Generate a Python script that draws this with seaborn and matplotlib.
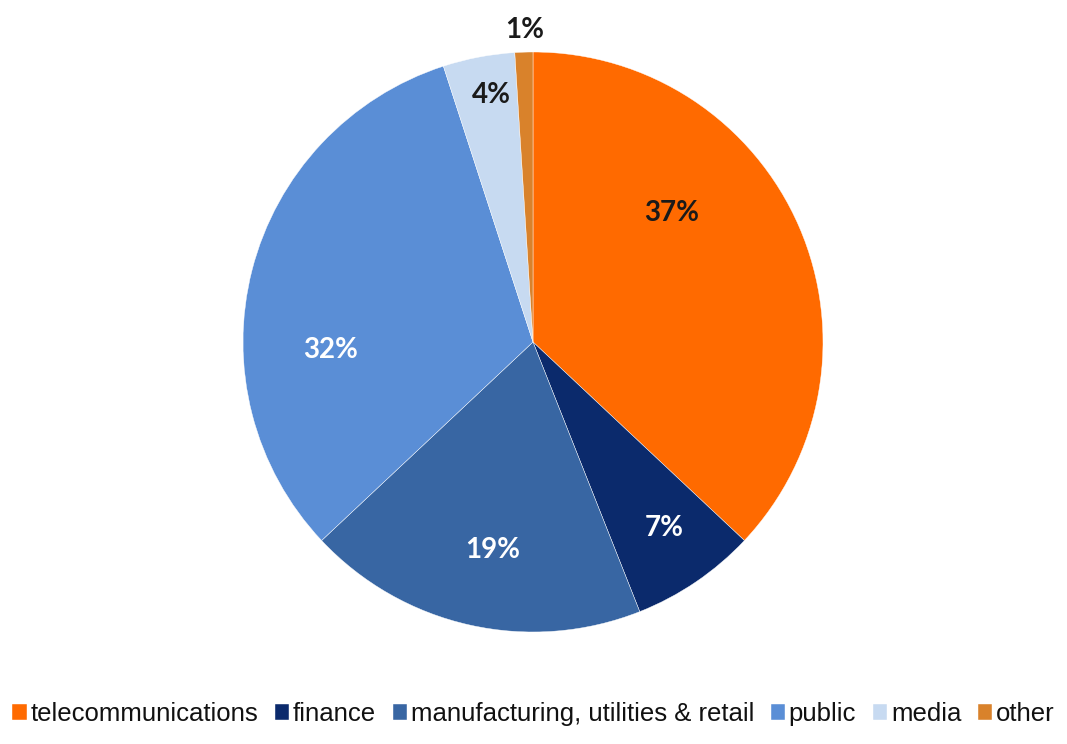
import matplotlib
matplotlib.use("Agg")
import matplotlib.pyplot as plt
import seaborn as sns

sns.set_theme(style="white")
plt.rcParams['font.family'] = ['Liberation Sans', 'DejaVu Sans']

categories = ["telecommunications", "finance", "manufacturing, utilities & retail",
              "public", "media", "other"]
values = [37, 7, 19, 32, 4, 1]
colors = ["#FF6A00", "#0B2A6C", "#3866A3", "#5A8ED6", "#C7DAF1", "#D9822B"]
label_colors = ["#1a1a1a", "white", "white", "white", "#1a1a1a", "#1a1a1a"]
# label positions in pie units (radius = 1)
label_pos = [(0.479, 0.445), (0.452, -0.641), (-0.138, -0.717),
             (-0.697, -0.028), (-0.145, 0.852), (-0.028, 1.076)]

fig = plt.figure(figsize=(10.67, 7.44), dpi=100)
ax = fig.add_axes([243/1067, 112/744, 580/1067, 580/744])

wedges, texts, autotexts = ax.pie(
    values, colors=colors, startangle=90, counterclock=False,
    autopct=lambda p: f"{p:.0f}%", pctdistance=0.6,
    wedgeprops=dict(edgecolor="white", linewidth=0.3),
)
for t, pos, c in zip(autotexts, label_pos, label_colors):
    t.set_position(pos)
    t.set_color(c)
    t.set_fontsize(20)
    t.set_fontweight("bold")
    t.set_family(["Lato", "DejaVu Sans"])
ax.set_xlim(-1, 1)
ax.set_ylim(-1, 1)
ax.set_axis_off()

leg = fig.legend(wedges, categories, loc="center", bbox_to_anchor=(0.5, 1 - 714/744),
                 ncol=6, frameon=False, fontsize=18.5, handlelength=0.55, handleheight=0.6,
                 handletextpad=0.15, columnspacing=0.65, borderaxespad=0, borderpad=0)
for txt in leg.get_texts():
    txt.set_color("#111111")

fig.savefig("out.png", dpi=100, facecolor="white")
